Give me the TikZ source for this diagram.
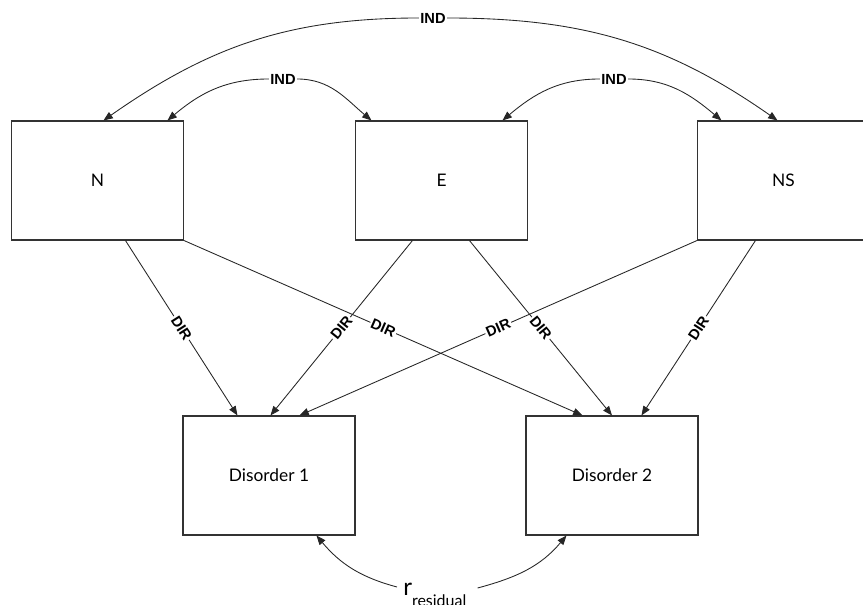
\documentclass[tikz,border=0pt]{standalone}
\usepackage{fontspec}
\setmainfont{Lato}
\newfontfamily\tagfont{Liberation Sans}
\usetikzlibrary{arrows.meta,calc}

\begin{document}
\begin{tikzpicture}[x=0.75pt,y=0.75pt,
    box/.style={draw=black!80, line width=0.8pt, minimum width=129pt, minimum height=89.25pt,
      inner sep=0pt, font=\fontsize{13}{13}\selectfont},
    link/.style={draw=black!85, line width=0.65pt, -{Triangle[length=7pt,width=5.5pt]}},
    tag/.style={fill=white, inner sep=1pt, font=\tagfont\bfseries\fontsize{11}{11}\selectfont}]
  \useasboundingbox (0,0) rectangle (863,604);

  % traits
  \node[box] (N) at (97.5,423.5) {N};
  \node[box] (E) at (441.5,423.5) {E};
  \node[box] (NS) at (783.5,423.5) {NS};
  % disorders
  \node[box] (D1) at (269,128.5) {Disorder 1};
  \node[box] (D2) at (612,128.5) {Disorder 2};

  % IND
  \node[tag] (ind) at (433,586) {IND};
  \node[tag] (indl) at (283,525) {IND};
  \node[tag] (indr) at (614,525) {IND};
  \coordinate (Na) at ($(N.north west)+(92.5,0)$);
  \coordinate (Nb) at ($(N.north west)+(156.5,0)$);
  \coordinate (Ea) at ($(E.north west)+(16.5,0)$);
  \coordinate (Eb) at ($(E.north west)+(147.5,0)$);
  \coordinate (NSa) at ($(NS.north west)+(24.5,0)$);
  \coordinate (NSb) at ($(NS.north west)+(80.5,0)$);
  \draw[link] (ind.west) to[out=180,in=35] (Na);
  \draw[link] (ind.east) to[out=0,in=145] (NSb);
  \draw[link] (indl.west) to[out=180,in=40] (Nb);
  \draw[link] (indl.east) to[out=0,in=140] (Ea);
  \draw[link] (indr.west) to[out=180,in=40] (Eb);
  \draw[link] (indr.east) to[out=0,in=140] (NSa);

  % DIR
  \coordinate (Nc) at ($(N.south west)+(114.5,0)$);
  \coordinate (Ec) at ($(E.south west)+(57.5,0)$);
  \coordinate (Ed) at ($(E.south west)+(114.5,0)$);
  \coordinate (NSc) at ($(NS.south west)+(58.5,0)$);
  \coordinate (D1a) at ($(D1.north west)+(55,0)$);
  \coordinate (D1b) at ($(D1.north west)+(88,0)$);
  \coordinate (D1c) at ($(D1.north west)+(117,0)$);
  \coordinate (D2a) at ($(D2.north west)+(57,0)$);
  \coordinate (D2c) at ($(D2.north west)+(116,0)$);
  \draw[link] (Nc) -- node[tag,sloped] {DIR} (D1a);
  \draw[link] (N.south east) -- node[tag,sloped] {DIR} (D2a);
  \draw[link] (Ec) -- node[tag,sloped] {DIR} (D1b);
  \draw[link] (Ed) -- node[tag,sloped] {DIR} (D2.north);
  \draw[link] (NS.south west) -- node[tag,sloped] {DIR} (D1c);
  \draw[link] (NSc) -- node[tag,sloped] {DIR} (D2c);

  % residual
  \node[inner sep=0pt, anchor=base west] (res) at (403,9)
    {\fontsize{18}{18}\selectfont r\raisebox{-8.25pt}{\fontsize{12}{12}\selectfont residual}};
  \coordinate (rl) at ([shift={(-6,8)}]res.base west);
  \coordinate (rr) at ([shift={(11,7)}]res.base east);
  \coordinate (D1d) at ($(D1.south west)+(134,0)$);
  \coordinate (D2d) at ($(D2.south west)+(41,0)$);
  \draw[link] (rl) to[out=165,in=-50] (D1d);
  \draw[link] (rr) to[out=15,in=-130] (D2d);
\end{tikzpicture}
\end{document}
